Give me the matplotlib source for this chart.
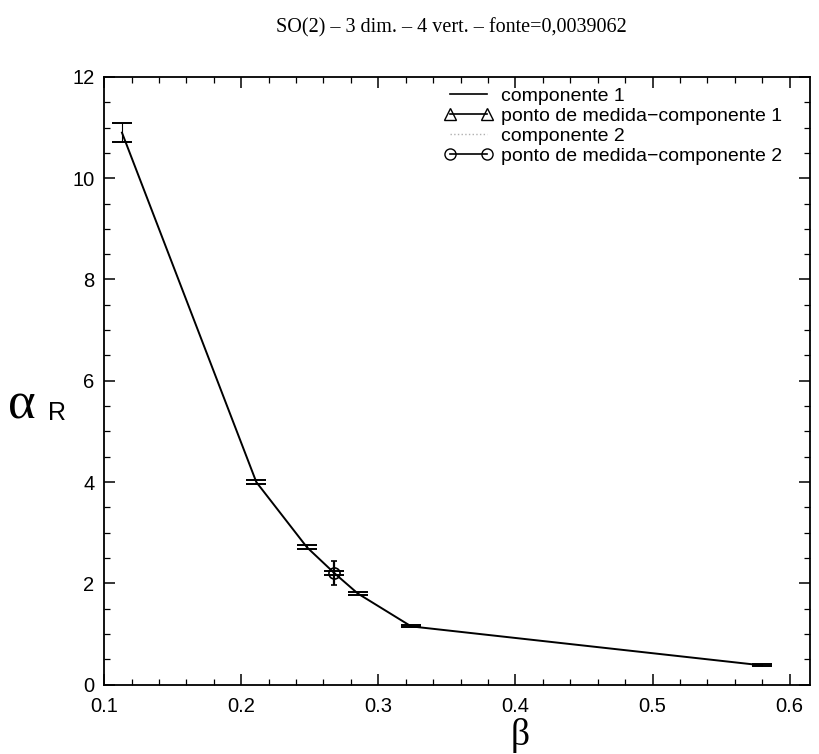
import numpy as np
import matplotlib
matplotlib.use('Agg')
import matplotlib.pyplot as plt
from matplotlib.lines import Line2D
from matplotlib.ticker import MultipleLocator, FormatStrFormatter

# componente 1 : curve and measured points (beta, alpha_R, error)
beta1 = [0.113, 0.211, 0.248, 0.268, 0.285, 0.324, 0.580]
alpha1 = [10.90, 4.00, 2.71, 2.20, 1.80, 1.15, 0.38]
err1 = [0.19, 0.04, 0.04, 0.04, 0.03, 0.02, 0.02]

# componente 2 : measured point
beta2 = [0.268]
alpha2 = [2.20]
err2 = [0.24]

xticks = [0.1, 0.2, 0.3, 0.4, 0.5, 0.6]
yticks = [0, 2, 4, 6, 8, 10, 12]

title = 'SO(2) \u2013 3 dim. \u2013 4 vert. \u2013 fonte=0,0039062'


def main():
    plt.rcParams['font.family'] = ['Liberation Sans', 'DejaVu Sans']
    fig = plt.figure(figsize=(8.2, 7.54), dpi=100)
    ax = fig.add_axes([0.127, 0.092, 0.861, 0.806])

    ax.plot(beta1, alpha1, color='black', lw=1.4)
    ax.errorbar(beta1, alpha1, yerr=err1, fmt='none', ecolor='black',
                elinewidth=0.8, capsize=7, capthick=1.4)
    ax.errorbar(beta2, alpha2, yerr=err2, fmt='o', mfc='none', mec='black',
                ms=8, mew=1.2, ecolor='black', elinewidth=1.6, capsize=2)

    ax.set_xlim(0.1, 0.615)
    ax.set_ylim(0, 12)
    ax.set_xticks(xticks)
    ax.set_yticks(yticks)
    ax.xaxis.set_major_formatter(FormatStrFormatter('%.1f'))
    ax.yaxis.set_major_formatter(FormatStrFormatter('%d'))
    ax.xaxis.set_minor_locator(MultipleLocator(0.02))
    ax.yaxis.set_minor_locator(MultipleLocator(0.5))
    ax.tick_params(which='both', direction='in', top=True, right=True,
                   labelsize=14.5)
    ax.tick_params(which='major', length=8, width=1.1)
    ax.tick_params(which='minor', length=4, width=0.9)
    ax.tick_params(axis='x', pad=9)
    ax.tick_params(axis='y', pad=7)
    for sp in ax.spines.values():
        sp.set_linewidth(1.3)

    handles = [
        Line2D([], [], color='black', lw=1.2),
        Line2D([], [], color='black', lw=1.2, marker='^', mfc='none',
               ms=8, markevery=[0, 1]),
        Line2D([], [], color='#b0b0b0', lw=1.0, ls=':'),
        Line2D([], [], color='black', lw=1.2, marker='o', mfc='none',
               ms=8, markevery=[0, 1]),
    ]
    labels = ['componente 1', 'ponto de medida\u2212componente 1',
              'componente 2', 'ponto de medida\u2212componente 2']
    ax.legend(handles, labels, loc='upper right', frameon=False,
              fontsize=14, numpoints=2, handlelength=2.5,
              handletextpad=0.4, labelspacing=0.12,
              bbox_to_anchor=(0.985, 1.012))

    fig.text(0.55, 0.963, title, ha='center', va='center', fontsize=14.5,
             family='Liberation Serif')
    fig.text(0.010, 0.462, '\u03b1', ha='left', va='center', fontsize=38,
             family='Liberation Serif')
    fig.text(0.058, 0.452, 'R', ha='left', va='center', fontsize=18)
    fig.text(0.634, 0.024, '\u03b2', ha='center', va='center', fontsize=27,
             family='Liberation Serif')

    fig.savefig('out.png', dpi=100)


if __name__ == "__main__":
    main()
